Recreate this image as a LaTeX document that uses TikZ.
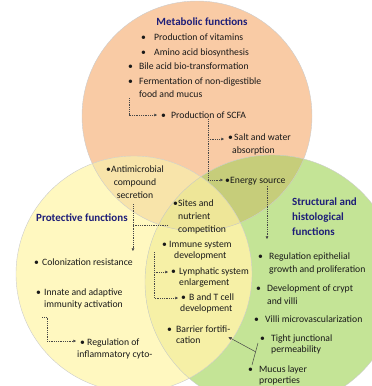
\documentclass[tikz,border=0pt]{standalone}
\usepackage{fontspec}
\setmainfont{Carlito}
\usetikzlibrary{arrows.meta,calc}

\definecolor{metaorange}{RGB}{249,203,165}
\definecolor{protyellow}{RGB}{255,248,192}
\definecolor{structgreen}{RGB}{196,228,150}
\definecolor{oyblend}{RGB}{248,228,170}
\definecolor{ogblend}{RGB}{198,205,122}
\definecolor{ygblend}{RGB}{246,240,166}
\definecolor{allblend}{RGB}{238,230,152}
\definecolor{titlenavy}{RGB}{30,30,120}
\definecolor{textdark}{RGB}{25,25,25}

\newcommand{\bul}[1]{\makebox[#1][l]{\textbullet}}

\begin{document}
\begin{tikzpicture}[
  x=1pt, y=-1pt,
  item/.style={anchor=base west, inner sep=0pt, align=left, text=textdark,
    font=\fontsize{9.7}{13}\selectfont},
  tight/.style={item, font=\fontsize{9.7}{10.2}\selectfont},
  heading/.style={inner sep=0pt, align=left, text=titlenavy,
    font=\fontsize{11}{15}\selectfont\bfseries},
  dline/.style={draw=textdark!80, line width=0.5pt, dash pattern=on 1pt off 0.8pt,
    -{Triangle[length=2.6pt,width=2.6pt]}},
  sline/.style={draw=textdark!80, line width=0.5pt},
  rim/.style={draw=black!20, line width=0.4pt}
]
\useasboundingbox (0,0) rectangle (372,386);

% circles
\fill[metaorange] (197,116) circle (115);
\fill[protyellow] (134,274) circle (118);
\fill[structgreen] (272,282) circle (127);
\begin{scope}
  \clip (134,274) circle (118);
  \clip (272,282) circle (127);
  \fill[ygblend] (0,0) rectangle (372,386);
\end{scope}
\begin{scope}
  \clip (197,116) circle (115);
  \fill[oyblend] (134,274) circle (118);
  \fill[ogblend] (272,282) circle (127);
  \clip (134,274) circle (118);
  \fill[allblend] (272,282) circle (127);
\end{scope}
\draw[rim] (197,116) circle (115);
\draw[rim] (134,274) circle (118);
\draw[rim] (272,282) circle (127);

% headings
\node[heading, anchor=base] (metahd) at (202,25) {Metabolic functions};
\node[heading, anchor=base west] (prothd) at (36,221) {Protective functions};
\node[heading, anchor=base west] (structhd) at (292,235) {Structural and\\histological\\functions};

% metabolic items
\node[item] (vitam) at (141,40) {\bul{13pt}Production of vitamins};
\node[item] (amino) at (141,55) {\bul{13pt}Amino acid biosynthesis};
\node[item] (bile) at (128,69) {\bul{11pt}Bile acid bio-transformation};
\node[item] (ferm) at (128,97) {\bul{11pt}Fermentation of non-digestible\\\hspace*{11pt}food and mucus};
\node[item] (scfa) at (161,118) {\bul{10pt}Production of SCFA};
\node[item] (salt) at (228,153) {\bul{6pt}Salt and water\\\hspace*{4pt}absorption};
\node[item] (energy) at (225,183) {\bul{5pt}Energy source};

% protective items
\node[item, align=center, anchor=base] (anti) at (135,198) {\bul{5pt}Antimicrobial\\compound\\secretion};
\node[item] (sites) at (173,232) {\bul{5pt}Sites and\\\hspace*{5pt}nutrient\\\hspace*{5pt}competition};
\node[item] (colon) at (34,265) {\bul{8pt}Colonization resistance};
\node[item, font=\fontsize{9.7}{12.5}\selectfont] (innate) at (36,307.5) {\bul{8pt}Innate and adaptive\\\hspace*{8pt}immunity activation};
\node[item, font=\fontsize{9.7}{12}\selectfont] (reginf) at (80,357) {\bul{7pt}Regulation of\\\hspace*{-3pt}inflammatory cyto-};

% shared items
\node[tight] (immune) at (162,258) {\bul{7pt}Immune system\\\hspace*{12pt}development};
\node[tight] (lymph) at (171,285) {\bul{8pt}Lymphatic system\\\hspace*{8pt}enlargement};
\node[tight] (bcell) at (181,311) {\bul{8pt}B and T cell\\\hspace*{-1pt}development};
\node[tight] (barrier) at (167,343) {\bul{9pt}Barrier fortifi-\\\hspace*{9pt}cation};

% structural items
\node[item] (regepi) at (258,272) {\bul{11pt}Regulation epithelial\\\hspace*{11pt}growth and proliferation};
\node[item] (crypt) at (256,304) {\bul{11pt}Development of crypt\\\hspace*{11pt}and villi};
\node[item] (villi) at (254,322) {\bul{11pt}Villi microvascularization};
\node[tight] (tjunc) at (260,352) {\bul{11pt}Tight junctional\\\hspace*{11pt}permeability};
\node[tight] (mucus) at (248,383) {\bul{11pt}Mucus layer\\\hspace*{11pt}properties};

% connectors
\draw[dline] ([xshift=1pt,yshift=-1pt]ferm.south west) |- ([xshift=-4pt,yshift=3pt]scfa.base west);
\draw[dline] ([xshift=47pt,yshift=-1pt]scfa.south west) |- ([xshift=-4pt,yshift=14pt]salt.base west);
\draw[dline] ([xshift=47pt,yshift=-1pt]scfa.south west) |- ([xshift=-2pt,yshift=3pt]energy.base west);
\draw[dline] ([xshift=42pt,yshift=-1pt]energy.south west) -- ([xshift=9pt,yshift=33pt]regepi.base west);
\draw[dline] ([yshift=-6pt]anti.south -| colon.east) -- ([yshift=14pt]colon.base east);
\draw[dline, -] ([xshift=-5pt,yshift=-9pt]sites.west) -- ([yshift=-9pt]sites.west -| colon.east);
\draw[dline] ([xshift=6pt,yshift=-8pt]innate.south west) -- ([xshift=11pt,yshift=-8pt]innate.south west)
  |- ([xshift=-4pt,yshift=16pt]reginf.base west);
\draw[dline] ([xshift=-8pt,yshift=6pt]immune.base west) |- ([xshift=-3pt,yshift=13pt]lymph.base west);
\draw[dline] ([xshift=-8pt,yshift=6pt]immune.base west) |- ([xshift=-3pt,yshift=13pt]bcell.base west);
\coordinate (tjtop) at ([xshift=-2pt,yshift=9pt]tjunc.base west);
\coordinate (mutop) at ([xshift=4pt,yshift=18pt]mucus.base west);
\draw[sline] (tjtop) -- (mutop);
\draw[sline, -{Triangle[length=3pt,width=3pt]}] ($(tjtop)!0.4!(mutop)$) -- ([xshift=-2pt,yshift=-2.5pt]barrier.east);
\end{tikzpicture}
\end{document}
